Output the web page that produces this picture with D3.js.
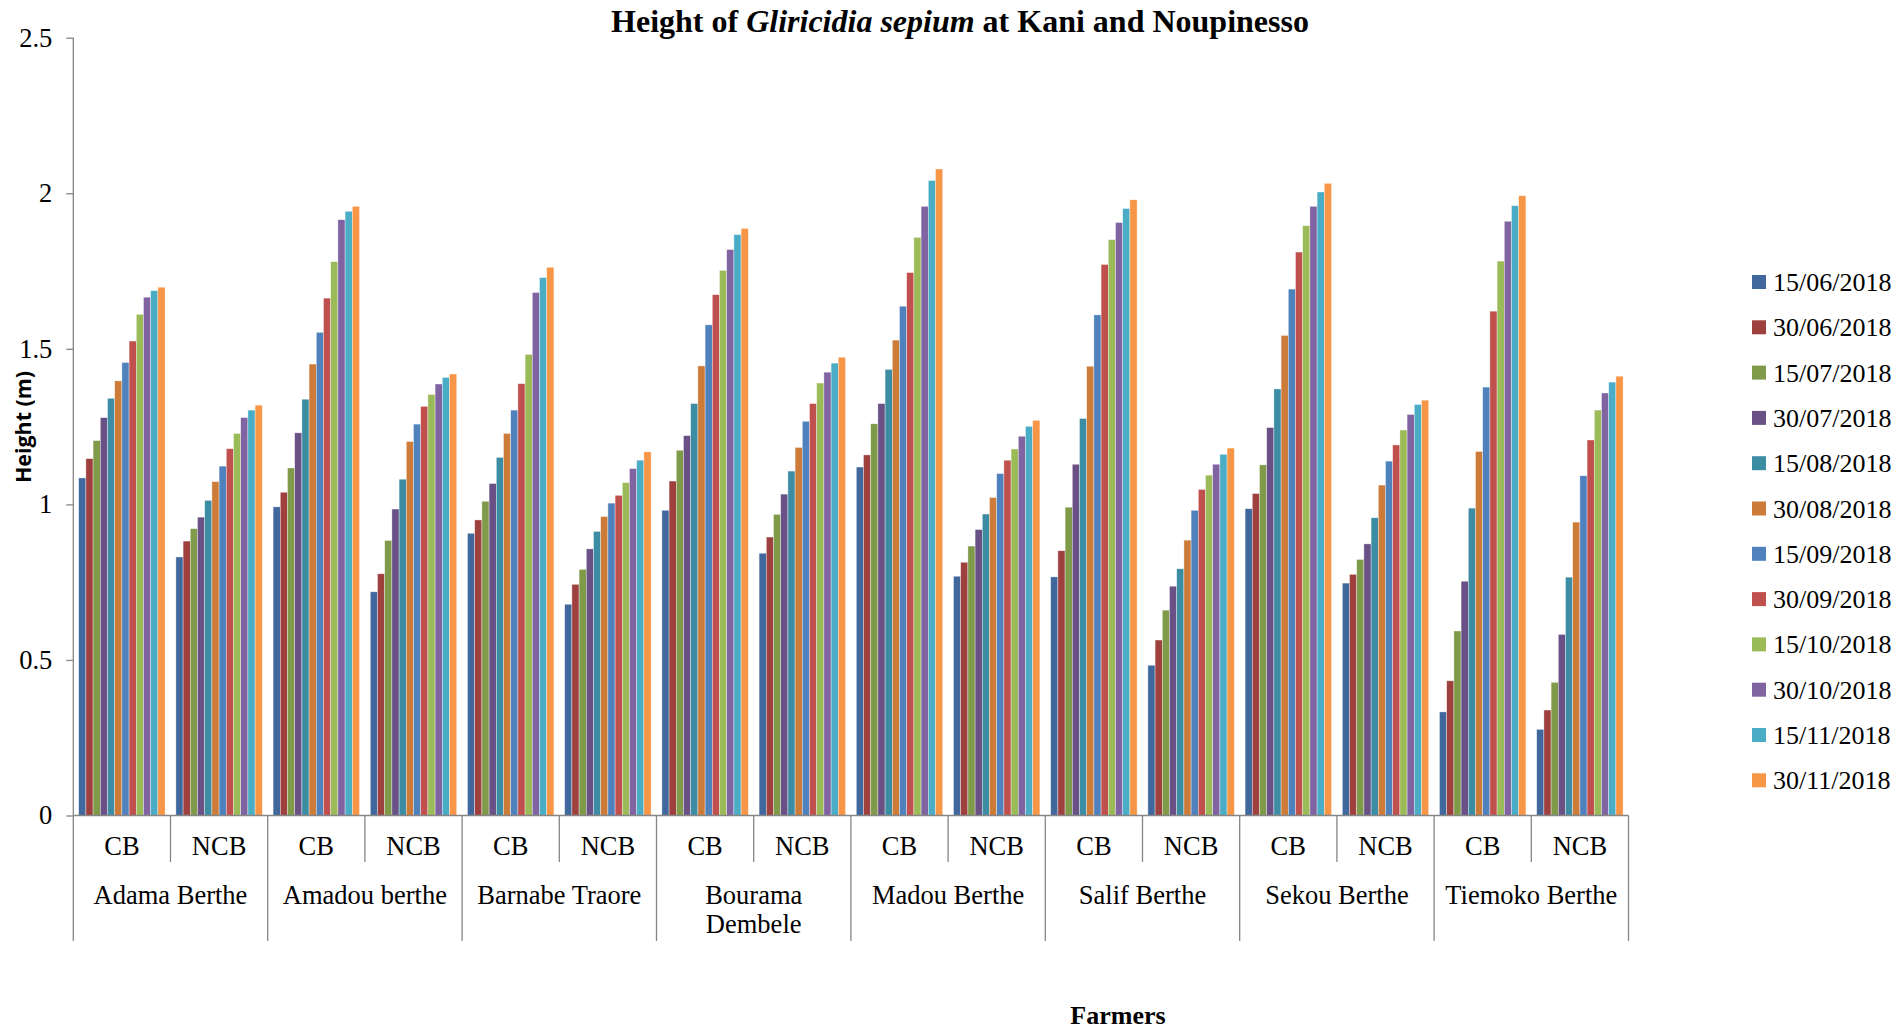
<!DOCTYPE html>
<html>
<head>
<meta charset="utf-8">
<script src="https://cdn.jsdelivr.net/npm/d3@7"></script>
<style>
  body { margin: 0; background: #fff; }
  text { font-family: "Liberation Serif", "Times New Roman", serif; fill: #000; }
</style>
</head>
<body>
<svg id="chart" width="1901" height="1030"></svg>
<script>
// data
var farmers = ["Adama Berthe", "Amadou berthe", "Barnabe Traore", "Bourama Dembele",
  "Madou Berthe", "Salif Berthe", "Sekou Berthe", "Tiemoko Berthe"];
var treatments = ["CB", "NCB"];
var dates = ["15/06/2018", "30/06/2018", "15/07/2018", "30/07/2018", "15/08/2018", "30/08/2018",
  "15/09/2018", "30/09/2018", "15/10/2018", "30/10/2018", "15/11/2018", "30/11/2018"];
var colors = ["#41689C", "#9E413E", "#7F9A48", "#695185", "#3C8DA3", "#CC7B38",
  "#4F81BD", "#C0504D", "#9BBB59", "#8064A2", "#4BACC6", "#F79646"];
var yTicks = [0, 0.5, 1, 1.5, 2, 2.5];

// one row per farmer, one value per date (m)
var heightsCB = [
  [1.085, 1.147, 1.205, 1.279, 1.341, 1.397, 1.456, 1.525, 1.611, 1.666, 1.687, 1.698],
  [0.992, 1.039, 1.117, 1.230, 1.338, 1.451, 1.553, 1.663, 1.780, 1.915, 1.942, 1.958],
  [0.907, 0.950, 1.010, 1.067, 1.151, 1.228, 1.303, 1.388, 1.482, 1.681, 1.729, 1.762],
  [0.981, 1.075, 1.174, 1.221, 1.324, 1.445, 1.577, 1.674, 1.752, 1.819, 1.867, 1.887],
  [1.120, 1.159, 1.259, 1.324, 1.434, 1.528, 1.637, 1.745, 1.858, 1.958, 2.041, 2.078],
  [0.767, 0.851, 0.991, 1.129, 1.276, 1.444, 1.609, 1.771, 1.851, 1.906, 1.951, 1.979],
  [0.986, 1.035, 1.127, 1.247, 1.371, 1.543, 1.692, 1.811, 1.896, 1.958, 2.004, 2.032],
  [0.333, 0.433, 0.593, 0.753, 0.988, 1.170, 1.377, 1.621, 1.782, 1.910, 1.960, 1.992]
];
var heightsNCB = [
  [0.831, 0.882, 0.922, 0.959, 1.013, 1.073, 1.123, 1.179, 1.228, 1.279, 1.303, 1.319],
  [0.719, 0.777, 0.884, 0.985, 1.081, 1.202, 1.258, 1.315, 1.353, 1.387, 1.408, 1.419],
  [0.679, 0.743, 0.791, 0.857, 0.913, 0.961, 1.004, 1.029, 1.070, 1.115, 1.142, 1.169],
  [0.843, 0.895, 0.968, 1.033, 1.107, 1.183, 1.267, 1.324, 1.390, 1.425, 1.454, 1.473],
  [0.769, 0.814, 0.866, 0.919, 0.969, 1.022, 1.099, 1.142, 1.178, 1.219, 1.251, 1.270],
  [0.483, 0.564, 0.660, 0.737, 0.793, 0.885, 0.981, 1.048, 1.094, 1.129, 1.161, 1.181],
  [0.747, 0.775, 0.823, 0.873, 0.957, 1.062, 1.139, 1.191, 1.239, 1.289, 1.321, 1.335],
  [0.277, 0.339, 0.428, 0.582, 0.766, 0.943, 1.092, 1.207, 1.303, 1.358, 1.393, 1.412]
];

var svg = d3.select("#chart");
var axisColor = "#868686";
var labelSize = "26.5px";

var plot = {left: 73.3, right: 1628.5, top: 37.7, bottom: 815.5};

// build groups: farmer x treatment
var groups = [];
farmers.forEach(function (f, i) {
  treatments.forEach(function (t) {
    groups.push({
      key: f + "|" + t,
      farmer: f,
      treatment: t,
      values: (t === "CB" ? heightsCB : heightsNCB)[i]
    });
  });
});

var x0 = d3.scaleBand()
  .domain(groups.map(function (d) { return d.key; }))
  .range([plot.left, plot.right])
  .padding(0);

var x1 = d3.scaleBand()
  .domain(dates)
  .range([0, x0.bandwidth()])
  .paddingInner(0)
  .paddingOuter(0.75);

var y = d3.scaleLinear()
  .domain([0, 2.5])
  .range([plot.bottom, plot.top]);

var color = d3.scaleOrdinal().domain(dates).range(colors);

// bars
var g = svg.append("g");
g.selectAll(".group")
  .data(groups)
  .enter().append("g")
    .attr("class", "group")
    .attr("transform", function (d) { return "translate(" + x0(d.key) + ",0)"; })
  .selectAll("rect")
  .data(function (d) { return d.values.map(function (v, j) { return {date: dates[j], value: v}; }); })
  .enter().append("rect")
    .attr("x", function (d) { return x1(d.date); })
    .attr("y", function (d) { return y(d.value); })
    .attr("width", x1.bandwidth())
    .attr("height", function (d) { return y(0) - y(d.value); })
    .attr("fill", function (d) { return color(d.date); })
    .attr("stroke", "#fff")
    .attr("stroke-opacity", 0.6)
    .attr("stroke-width", 0.6);

// y axis
var yAxis = svg.append("g")
  .attr("transform", "translate(" + plot.left + ",0)")
  .call(d3.axisLeft(y).tickValues(yTicks).tickSize(7).tickPadding(14)
    .tickFormat(function (d) { return String(d); }));
yAxis.select(".domain").attr("stroke", axisColor).attr("stroke-width", 1.3)
  .attr("d", "M0," + plot.top + "V" + plot.bottom);
yAxis.selectAll(".tick line").attr("stroke", axisColor).attr("stroke-width", 1.3);
yAxis.selectAll(".tick text")
  .style("font-family", "Liberation Serif, serif")
  .style("font-size", labelSize)
  .attr("fill", "#000");

// x axis line and category dividers
var xa = svg.append("g");
xa.append("line")
  .attr("x1", plot.left).attr("x2", plot.right)
  .attr("y1", plot.bottom).attr("y2", plot.bottom)
  .attr("stroke", axisColor).attr("stroke-width", 1.3);

var bounds = groups.map(function (d) { return x0(d.key); }).concat([plot.right]);
xa.selectAll(".divider")
  .data(bounds)
  .enter().append("line")
    .attr("class", "divider")
    .attr("x1", function (d) { return d; })
    .attr("x2", function (d) { return d; })
    .attr("y1", plot.bottom)
    .attr("y2", function (d, i) { return i % 2 === 0 ? 941 : 862; })
    .attr("stroke", axisColor)
    .attr("stroke-width", 1.3);

xa.selectAll(".treat")
  .data(groups)
  .enter().append("text")
    .attr("class", "treat")
    .attr("x", function (d) { return x0(d.key) + x0.bandwidth() / 2; })
    .attr("y", 855)
    .attr("text-anchor", "middle")
    .style("font-size", labelSize)
    .text(function (d) { return d.treatment; });

var farmerLines = {"Bourama Dembele": ["Bourama", "Dembele"]};
xa.selectAll(".farmer")
  .data(farmers)
  .enter().append("text")
    .attr("class", "farmer")
    .attr("x", function (d) { return x0(d + "|CB") + x0.bandwidth(); })
    .attr("y", 904)
    .attr("text-anchor", "middle")
    .style("font-size", labelSize)
    .each(function (d) {
      var lines = farmerLines[d] || [d];
      var t = d3.select(this);
      lines.forEach(function (l, k) {
        t.append("tspan")
          .attr("x", t.attr("x"))
          .attr("dy", k === 0 ? 0 : 29)
          .text(l);
      });
    });

// titles
var title = svg.append("text")
  .attr("x", 960)
  .attr("y", 32)
  .attr("text-anchor", "middle")
  .style("font-size", "32px")
  .style("font-weight", "bold");
title.append("tspan").text("Height of ");
title.append("tspan").style("font-style", "italic").text("Gliricidia sepium");
title.append("tspan").text(" at Kani and Noupinesso");

svg.append("text")
  .attr("transform", "translate(31,427) rotate(-90)")
  .attr("text-anchor", "middle")
  .attr("textLength", 112)
  .attr("lengthAdjust", "spacingAndGlyphs")
  .style("font-family", "'Open Sans', 'Noto Sans', sans-serif")
  .style("font-size", "22px")
  .style("font-weight", "bold")
  .text("Height (m)");

svg.append("text")
  .attr("x", 1118)
  .attr("y", 1024)
  .attr("text-anchor", "middle")
  .style("font-size", "26px")
  .style("font-weight", "bold")
  .text("Farmers");

// legend
var legend = svg.append("g")
  .selectAll(".leg")
  .data(dates)
  .enter().append("g")
    .attr("class", "leg")
    .attr("transform", function (d, i) { return "translate(1752," + (282 + i * 45.3) + ")"; });
legend.append("rect")
  .attr("x", 0).attr("y", -7)
  .attr("width", 14).attr("height", 14)
  .attr("fill", function (d) { return color(d); });
legend.append("text")
  .attr("x", 21)
  .attr("y", 9)
  .style("font-size", "26px")
  .text(function (d) { return d; });
</script>
</body>
</html>
